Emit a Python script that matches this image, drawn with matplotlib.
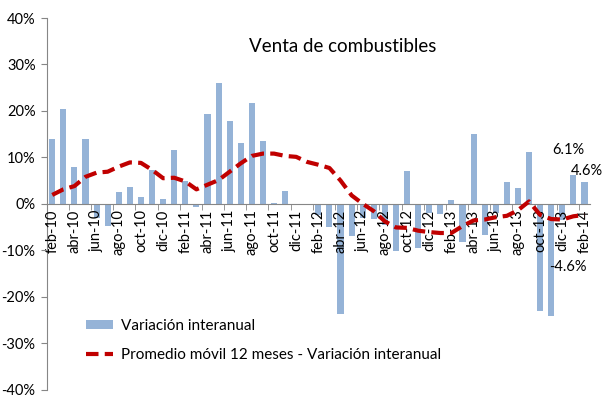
import numpy as np
import matplotlib.pyplot as plt
from matplotlib.patches import Patch
from matplotlib.lines import Line2D

plt.rcParams['font.family'] = ['Lato', 'DejaVu Sans']

# Meses feb-10 ... feb-14
meses = ['ene', 'feb', 'mar', 'abr', 'may', 'jun', 'jul', 'ago', 'sep', 'oct', 'nov', 'dic']
etiquetas = []
for anio in range(10, 15):
    for m in meses:
        etiquetas.append(f'{m}-{anio}')
etiquetas = etiquetas[1:50]

# Variación interanual (%)
variacion = [14.0, 20.5, 8.0, 14.0, -3.1, -4.8, 2.6, 3.7, 1.4, 7.3, 1.1, 11.5,
             5.0, -0.6, 19.3, 25.9, 17.8, 13.0, 21.7, 13.5, 0.2, 2.8, 0.0, -0.2,
             -2.5, -4.9, -23.7, -7.0, -3.0, -3.3, -4.5, -10.2, 7.1, -9.5, -1.9, -2.1,
             0.9, -8.2, 15.0, -6.8, -2.0, 4.6, 3.4, 11.2, -23.2, -24.1, -3.5, 6.1, 4.6]

# Promedio móvil 12 meses (%)
promedio = [1.9, 3.1, 3.8, 5.8, 6.7, 6.9, 8.0, 8.9, 8.8, 7.3, 5.5, 5.6,
            4.8, 3.1, 4.1, 5.1, 6.9, 8.7, 10.3, 10.8, 10.8, 10.3, 10.1, 9.0,
            8.4, 7.7, 5.0, 1.8, 0.0, -1.6, -3.8, -5.1, -5.2, -5.8, -6.1, -6.3,
            -6.3, -4.8, -3.6, -3.4, -2.9, -2.6, -1.4, 0.5, -2.4, -3.3, -3.4, -2.7, -2.4]

azul = '#95B3D7'
rojo = '#C00000'
gris = '#868686'

fig = plt.figure(figsize=(6.09, 3.98), dpi=100)
ax = fig.add_axes([46.7 / 609, 8.5 / 398, (590 - 46.7) / 609, 371.5 / 398])
ax.set_axisbelow(False)

x = np.arange(len(variacion))
ax.bar(x, variacion, width=0.55, color=azul, zorder=2)
ax.plot(x, promedio, color=rojo, lw=3, dashes=(3, 1.5), zorder=3)

ax.set_xlim(-0.5, len(x) - 0.5)
ax.set_ylim(-40, 40)
ax.set_yticks(np.arange(-40, 41, 10))
ax.set_yticklabels([f'{v}%' for v in range(-40, 41, 10)], fontsize=10.5)

# eje x sobre el cero, etiquetas cada dos meses
ax.spines['bottom'].set_position(('data', 0))
ax.spines['bottom'].set_color(gris)
ax.spines['left'].set_color(gris)
ax.spines['top'].set_visible(False)
ax.spines['right'].set_visible(False)
ax.set_xticks(x[::2])
ax.set_xticklabels(etiquetas[::2], rotation=90, fontsize=10.5)
ax.set_xticks(np.arange(1.5, len(x) - 1, 2), minor=True)
ax.tick_params(axis='x', which='major', length=0, pad=4)
ax.tick_params(axis='x', which='minor', length=4, color=gris, direction='out')
ax.tick_params(axis='y', length=4, color=gris, pad=4)

fig.text(343 / 609, 1 - 47 / 398, 'Venta de combustibles', fontsize=13.5, ha='center', va='center')

# etiquetas de valores
ax.text(x[-2] - 0.5, variacion[-2] + 5.5, f'{variacion[-2]:.1f}%', ha='center', va='center', fontsize=10.5)
ax.text(x[-1] + 0.2, variacion[-1] + 2.5, f'{variacion[-1]:.1f}%', ha='center', va='center', fontsize=10.5)
ax.text(46.5, -13.7, '-4.6%', ha='center', va='center', fontsize=10.5)

handles = [Patch(facecolor=azul, edgecolor='none'),
           Line2D([], [], color=rojo, lw=3, dashes=(3, 1.5))]
ax.legend(handles, ['Variación interanual', 'Promedio móvil 12 meses - Variación interanual'],
          loc='upper left', bbox_to_anchor=(86 / 609, 1 - 319 / 398),
          bbox_transform=fig.transFigure, frameon=False, fontsize=11,
          handlelength=1.75, handleheight=0.6, handletextpad=0.55,
          labelspacing=1.0, borderpad=0, borderaxespad=0)

fig.savefig('out.png', dpi=100)
